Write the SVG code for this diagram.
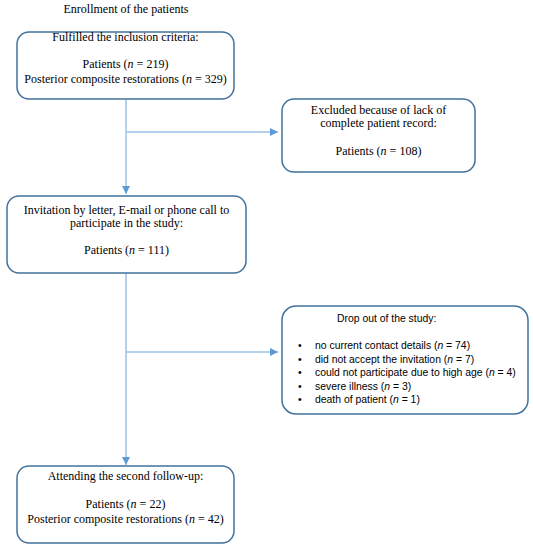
<svg xmlns="http://www.w3.org/2000/svg" width="533" height="550" viewBox="0 0 533 550">
<style>
.box{fill:#ffffff;stroke:#41719C;stroke-width:1.5}
.serif{font-family:"Liberation Serif","Times New Roman",serif;font-size:12px;fill:#000;text-anchor:middle}
.sans{font-family:"Liberation Sans",Arial,sans-serif;font-size:10.4px;fill:#000}
.conn{stroke:#9DC3E6;stroke-width:1.5;fill:none}
</style>
<defs>
<marker id="arr" viewBox="0 0 8 8" refX="8" refY="4" markerWidth="8" markerHeight="8" markerUnits="userSpaceOnUse" orient="auto">
<path d="M0,0 L8,4 L0,8 Z" fill="#5B9BD5"/>
</marker>
</defs>
<rect width="533" height="550" fill="#ffffff"/>
<text class="serif" x="126" y="13">Enrollment of the patients</text>
<g id="connectors">
<line class="conn" x1="126" y1="99" x2="126" y2="194" marker-end="url(#arr)"/>
<line class="conn" x1="126" y1="132" x2="278" y2="132" marker-end="url(#arr)"/>
<line class="conn" x1="126" y1="273" x2="126" y2="465" marker-end="url(#arr)"/>
<line class="conn" x1="126" y1="352" x2="278" y2="352" marker-end="url(#arr)"/>
</g>
<g id="n1">
<rect class="box" x="17" y="32" width="217" height="67" rx="12"/>
<text class="serif" x="125.5" y="41">Fulfilled the inclusion criteria:</text>
<text class="serif" x="125.5" y="68">Patients (<tspan font-style="italic">n</tspan> = 219)</text>
<text class="serif" x="125.5" y="83">Posterior composite restorations (<tspan font-style="italic">n</tspan> = 329)</text>
</g>
<g id="n2">
<rect class="box" x="282" y="99" width="193" height="73" rx="12"/>
<text class="serif" x="378.5" y="114">Excluded because of lack of</text>
<text class="serif" x="378.5" y="127">complete patient record:</text>
<text class="serif" x="378.5" y="155">Patients (<tspan font-style="italic">n</tspan> = 108)</text>
</g>
<g id="n3">
<rect class="box" x="7" y="196" width="239" height="77" rx="12"/>
<text class="serif" x="126.5" y="214">Invitation by letter, E-mail or phone call to</text>
<text class="serif" x="126.5" y="226.5">participate in the study:</text>
<text class="serif" x="126.5" y="254">Patients (<tspan font-style="italic">n</tspan> = 111)</text>
</g>
<g id="n4">
<rect class="box" x="282" y="306" width="246" height="108" rx="14"/>
<text class="sans" x="337" y="322">Drop out of the study:</text>
<g class="sans">
<text x="298" y="349">•</text><text x="315" y="349">no current contact details (<tspan font-style="italic">n</tspan> = 74)</text>
<text x="298" y="362.5">•</text><text x="315" y="362.5">did not accept the invitation (<tspan font-style="italic">n</tspan> = 7)</text>
<text x="298" y="376">•</text><text x="315" y="376">could not participate due to high age (<tspan font-style="italic">n</tspan> = 4)</text>
<text x="298" y="389.5">•</text><text x="315" y="389.5">severe illness (<tspan font-style="italic">n</tspan> = 3)</text>
<text x="298" y="403">•</text><text x="315" y="403">death of patient (<tspan font-style="italic">n</tspan> = 1)</text>
</g>
</g>
<g id="n5">
<rect class="box" x="17" y="466" width="217" height="77" rx="12"/>
<text class="serif" x="125.5" y="480">Attending the second follow-up:</text>
<text class="serif" x="125.5" y="508">Patients (<tspan font-style="italic">n</tspan> = 22)</text>
<text class="serif" x="125.5" y="523">Posterior composite restorations (<tspan font-style="italic">n</tspan> = 42)</text>
</g>
</svg>
